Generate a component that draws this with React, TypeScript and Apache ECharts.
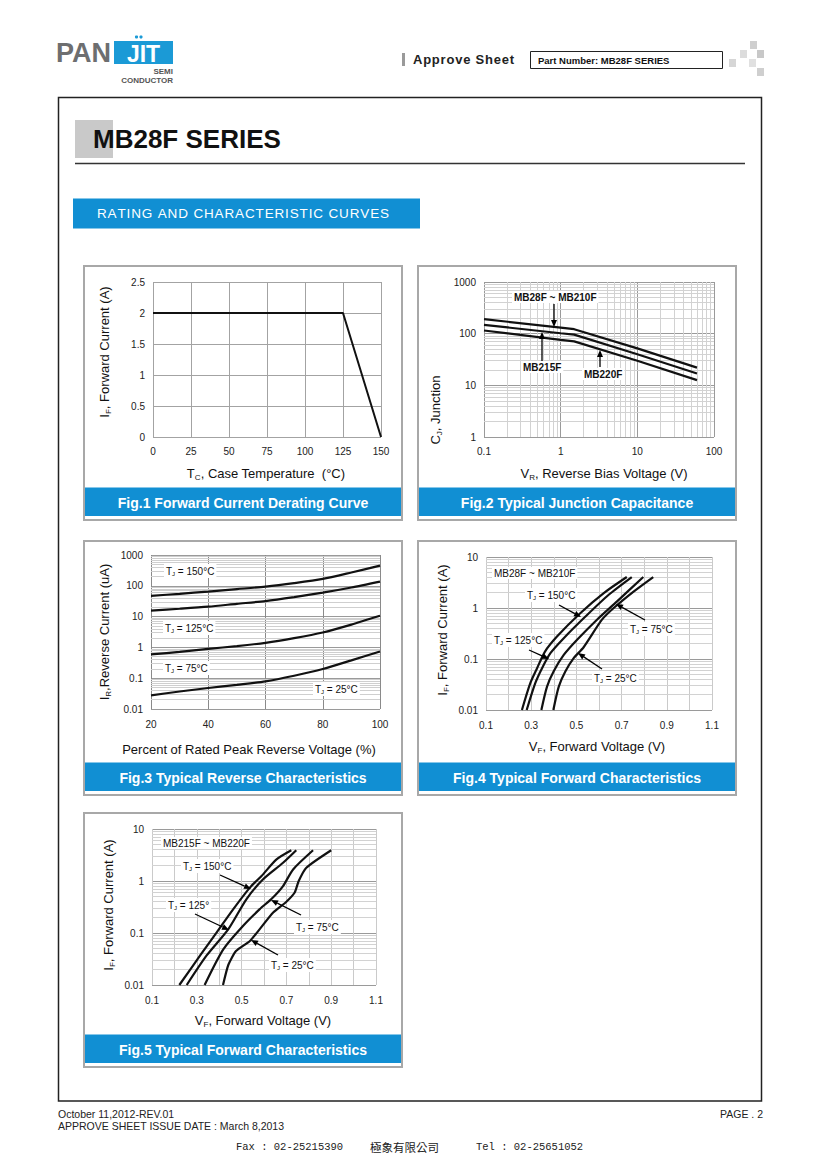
import React, { useEffect, useRef } from 'react';
import * as echarts from 'echarts';

// ---------- DATA ----------
const fig1TempTicks = [0, 25, 50, 75, 100, 125, 150];
const fig1CurrentTicks = [0, 0.5, 1, 1.5, 2, 2.5];
const fig1TempC = [0, 125, 150];
const fig1CurrentA = [2, 2, 0];

const fig2VoltageV = [0.1, 1, 1.5, 10, 60];
const fig2Mb28to210 = [191, 131, 122, 52, 22];
const fig2Mb215 = [148, 102, 96, 40, 17];
const fig2Mb220 = [115, 76, 71, 30, 12.6];

const fig3PercentVr = [20, 30, 40, 50, 60, 70, 80, 90, 100];
const fig3Tj150 = [47, 55, 65, 78, 94, 122, 167, 270, 450];
const fig3Tj125 = [15.7, 18, 21, 26, 32, 43, 60, 88, 137];
const fig3Tj75 = [0.59, 0.72, 0.9, 1.1, 1.41, 2.0, 3.05, 5.5, 10.6];
const fig3Tj25 = [0.0277, 0.037, 0.048, 0.061, 0.079, 0.12, 0.198, 0.38, 0.74];

const fig4Tj150V = [0.259, 0.296, 0.326, 0.361, 0.414, 0.517, 0.621, 0.723];
const fig4Tj150I = [0.01, 0.0335, 0.066, 0.14, 0.276, 0.79, 1.96, 4.05];
const fig4Tj125V = [0.28, 0.318, 0.348, 0.385, 0.444, 0.54, 0.643, 0.745];
const fig4Tj125I = [0.01, 0.0335, 0.066, 0.13, 0.256, 0.68, 1.82, 4.05];
const fig4Tj75V = [0.345, 0.37, 0.399, 0.444, 0.503, 0.591, 0.68, 0.796];
const fig4Tj75I = [0.01, 0.0288, 0.057, 0.12, 0.238, 0.59, 1.35, 4.05];
const fig4Tj25V = [0.398, 0.422, 0.451, 0.488, 0.532, 0.613, 0.665, 0.753, 0.84];
const fig4Tj25I = [0.01, 0.0288, 0.057, 0.104, 0.17, 0.59, 1.0, 2.1, 4.05];

const fig5Tj150V = [0.222, 0.315, 0.389, 0.463, 0.537, 0.589, 0.656, 0.722];
const fig5Tj150I = [0.01, 0.037, 0.103, 0.288, 0.746, 1.25, 2.6, 3.9];
const fig5Tj125V = [0.255, 0.344, 0.441, 0.522, 0.596, 0.685, 0.744];
const fig5Tj125I = [0.01, 0.037, 0.119, 0.45, 1.08, 2.24, 3.9];
const fig5Tj75V = [0.335, 0.419, 0.507, 0.581, 0.633, 0.685, 0.73, 0.819];
const fig5Tj75I = [0.01, 0.049, 0.138, 0.288, 0.45, 0.8, 1.67, 3.9];
const fig5Tj25V = [0.417, 0.441, 0.475, 0.537, 0.581, 0.641, 0.7, 0.737, 0.755, 0.789, 0.9];
const fig5Tj25I = [0.01, 0.0245, 0.045, 0.07, 0.119, 0.248, 0.4, 0.6, 1.0, 1.8, 3.9];

// log-paper minor grid values (2..9 per decade)
const minorDigits = [2, 3, 4, 5, 6, 7, 8, 9];
const decadesFig2X = [0.1, 1, 10];
const decadesFig2Y = [1, 10, 100];
const decadesFig3Y = [0.01, 0.1, 1, 10, 100];
const decadesFig45Y = [0.01, 0.1, 1];

// ---------- STYLE HELPERS ----------
const F = '"Liberation Sans", Arial, Helvetica, sans-serif';
const BLUE = '#118fd3';

const zip = (a: number[], b: number[]) => a.map((v, i) => [v, b[i]]);
const minors = (decades: number[]) =>
  decades.flatMap((d) => minorDigits.map((m) => Number((d * m).toPrecision(3))));
const logFmt = (v: number) => String(Number(Number(v).toPrecision(3)));
const oddTenthFmt = (v: number) => {
  const k = Math.round(v * 10);
  return k % 2 === 1 ? (k / 10).toFixed(1) : '';
};

function T(x: number, y: number, text: string, o: any = {}) {
  const size = o.size || 12;
  const st: any = {
    text,
    fill: o.color || '#111',
    fontSize: size,
    fontFamily: o.family || F,
    fontWeight: o.weight || 'normal',
    align: o.align || 'left',
    verticalAlign: o.valign || 'middle',
    textAlign: o.align || 'left',
    textVerticalAlign: o.valign || 'middle',
    rich: {
      s: {
        fontSize: Math.round(size * 0.62),
        fontFamily: o.family || F,
        fontWeight: o.weight || 'normal',
        fill: o.color || '#111',
        color: o.color || '#111',
        padding: [Math.round(size * 0.6), 0, 0, 0],
      },
    },
  };
  if (o.bg) {
    st.backgroundColor = o.bg;
    st.padding = o.pad || [1, 2, 1, 2];
  }
  return { type: 'text', x, y, z: o.z ?? 30, rotation: o.rotation || 0, silent: true, style: st };
}

// text spread evenly between x1 and x2 (emulates letter spacing)
let measureCtx: CanvasRenderingContext2D | null = null;
function spread(x1: number, x2: number, y: number, text: string, o: any = {}) {
  if (!measureCtx) measureCtx = document.createElement('canvas').getContext('2d');
  const size = o.size || 12;
  const weight = o.weight || 'normal';
  const family = o.family || F;
  const ctx = measureCtx!;
  ctx.font = `${weight} ${size}px ${family}`;
  const chars = Array.from(text);
  const widths = chars.map((c) => ctx.measureText(c).width);
  const total = widths.reduce((a, b) => a + b, 0);
  const gap = chars.length > 1 ? (x2 - x1 - total) / (chars.length - 1) : 0;
  const out: any[] = [];
  let x = x1;
  chars.forEach((c, i) => {
    if (c !== ' ') out.push(T(x, y, c, { ...o, align: 'left' }));
    x += widths[i] + gap;
  });
  return out;
}

function arrow(x1: number, y1: number, x2: number, y2: number) {
  const dx = x2 - x1, dy = y2 - y1;
  const L = Math.sqrt(dx * dx + dy * dy);
  const ux = dx / L, uy = dy / L;
  const hl = 7, hw = 3;
  const bx = x2 - ux * hl, by = y2 - uy * hl;
  return {
    type: 'group',
    z: 30,
    silent: true,
    children: [
      { type: 'line', z: 30, shape: { x1, y1, x2: bx, y2: by }, style: { stroke: '#000', lineWidth: 1.3 } },
      {
        type: 'polygon',
        z: 30,
        shape: { points: [[x2, y2], [bx - uy * hw, by + ux * hw], [bx + uy * hw, by - ux * hw]] },
        style: { fill: '#000' },
      },
    ],
  };
}

function panel(x: number, y: number, caption: string) {
  return [
    { type: 'rect', z: 5, silent: true, shape: { x: x + 1, y: y + 1, width: 318, height: 254 }, style: { fill: 'none', stroke: '#a8a8a8', lineWidth: 2 } },
    { type: 'rect', z: 5, silent: true, shape: { x: x + 2, y: y + 222.5, width: 316, height: 28.5 }, style: { fill: BLUE } },
    T(x + 160, y + 237.5, caption, { size: 14, weight: 'bold', color: '#fff', align: 'center' }),
  ];
}

function gridLines(idx: number, xMin: number, yMin: number, xVals: number[], yVals: number[], color: string) {
  return {
    type: 'line',
    xAxisIndex: idx,
    yAxisIndex: idx,
    data: [[xMin, yMin]],
    symbol: 'none',
    lineStyle: { opacity: 0 },
    z: 1,
    silent: true,
    markLine: {
      z: 1,
      silent: true,
      symbol: ['none', 'none'],
      label: { show: false },
      emphasis: { disabled: true },
      lineStyle: { color, width: 1, type: 'solid' },
      data: [...xVals.map((v) => ({ xAxis: v })), ...yVals.map((v) => ({ yAxis: v }))],
    },
  };
}

function curve(idx: number, data: number[][], width = 2.2, smooth: any = 0.25) {
  return {
    type: 'line',
    xAxisIndex: idx,
    yAxisIndex: idx,
    data,
    symbol: 'none',
    showSymbol: false,
    smooth,
    lineStyle: { color: '#111', width },
    z: 10,
    silent: true,
  };
}

const lab = { fontFamily: F, fontSize: 10, color: '#222' };
const noLine = { show: false };

function buildOption() {
  const graphic: any[] = [];

  // header logo
  graphic.push(T(56, 53, 'PAN', { size: 27, weight: 'bold', color: '#6d6e70' }));
  graphic.push({ type: 'rect', z: 5, silent: true, shape: { x: 114, y: 41, width: 59, height: 23 }, style: { fill: '#1b9ad6' } });
  graphic.push(T(143.5, 53.5, 'JIT', { size: 23, weight: 'bold', color: '#fff', align: 'center' }));
  graphic.push({ type: 'circle', z: 6, silent: true, shape: { cx: 136.5, cy: 37, r: 1.6 }, style: { fill: '#1b9ad6' } });
  graphic.push({ type: 'circle', z: 6, silent: true, shape: { cx: 141, cy: 37, r: 1.6 }, style: { fill: '#1b9ad6' } });
  graphic.push(T(173, 71, 'SEMI', { size: 8, weight: 'bold', color: '#555', align: 'right' }));
  graphic.push(T(173, 80, 'CONDUCTOR', { size: 8, weight: 'bold', color: '#555', align: 'right' }));

  // approve sheet
  graphic.push({ type: 'rect', z: 5, silent: true, shape: { x: 402, y: 53, width: 3, height: 13 }, style: { fill: '#9a9a9a' } });
  graphic.push(...spread(413, 514, 59.5, 'Approve Sheet', { size: 13, weight: 'bold', color: '#222' }));
  graphic.push({ type: 'rect', z: 5, silent: true, shape: { x: 530.5, y: 51.5, width: 192, height: 17 }, style: { fill: 'none', stroke: '#222', lineWidth: 1 } });
  graphic.push(T(538, 60.5, 'Part Number: MB28F SERIES', { size: 9.5, weight: 'bold', color: '#111' }));
  const sq = [
    [750, 41, '#cfcfcf'], [740, 50, '#dcdcdc'], [757, 50, '#c8c8c8'],
    [729, 59, '#d6d6d6'], [749, 59, '#e0e0e0'], [757, 68, '#cfcfcf'],
  ];
  sq.forEach(([x, y, c]) =>
    graphic.push({ type: 'rect', z: 5, silent: true, shape: { x, y, width: 7, height: 8 }, style: { fill: c } })
  );

  // main frame
  graphic.push({ type: 'rect', z: 5, silent: true, shape: { x: 58.5, y: 97.5, width: 703, height: 1003.5 }, style: { fill: 'none', stroke: '#222', lineWidth: 1.5 } });
  graphic.push({ type: 'rect', z: 5, silent: true, shape: { x: 75, y: 120, width: 38, height: 38 }, style: { fill: '#c9c9c9' } });
  graphic.push(T(93, 138.5, 'MB28F SERIES', { size: 26, weight: 'bold', color: '#111' }));
  graphic.push({ type: 'line', z: 5, silent: true, shape: { x1: 75, y1: 163.5, x2: 745, y2: 163.5 }, style: { stroke: '#333', lineWidth: 1.5 } });
  graphic.push({ type: 'rect', z: 5, silent: true, shape: { x: 73, y: 198.5, width: 347, height: 30 }, style: { fill: BLUE } });
  graphic.push(...spread(97, 389, 213.5, 'RATING AND CHARACTERISTIC CURVES', { size: 13.5, color: '#fff' }));

  // panels
  graphic.push(...panel(83, 265, 'Fig.1 Forward Current Derating Curve'));
  graphic.push(...panel(417, 265, 'Fig.2 Typical Junction Capacitance'));
  graphic.push(...panel(83, 540, 'Fig.3 Typical Reverse Characteristics'));
  graphic.push(...panel(417, 540, 'Fig.4 Typical Forward Characteristics'));
  graphic.push(...panel(83, 812, 'Fig.5 Typical Forward Characteristics'));

  // axis titles
  const R = Math.PI / 2;
  graphic.push(T(104, 352, 'I{s|F}, Forward Current (A)', { size: 13, align: 'center', rotation: R }));
  graphic.push(T(266, 473, 'T{s|C}, Case Temperature  (°C)', { size: 13, align: 'center' }));
  graphic.push(T(435, 410, 'C{s|J}, Junction', { size: 13, align: 'center', rotation: R }));
  graphic.push(T(604, 473, 'V{s|R}, Reverse Bias Voltage (V)', { size: 13, align: 'center' }));
  graphic.push(T(104, 632, 'I{s|R},Reverse Current (uA)', { size: 13, align: 'center', rotation: R }));
  graphic.push(T(249, 749, 'Percent of Rated Peak Reverse Voltage (%)', { size: 13, align: 'center' }));
  graphic.push(T(442, 630, 'I{s|F}, Forward Current (A)', { size: 13, align: 'center', rotation: R }));
  graphic.push(T(597, 746, 'V{s|F}, Forward Voltage (V)', { size: 13, align: 'center' }));
  graphic.push(T(108, 905, 'I{s|F}, Forward Current (A)', { size: 13, align: 'center', rotation: R }));
  graphic.push(T(263, 1020, 'V{s|F}, Forward Voltage (V)', { size: 13, align: 'center' }));

  // Fig2 annotations
  graphic.push(T(512, 297, 'MB28F ~ MB210F', { size: 10, weight: 'bold', bg: '#fff' }));
  graphic.push(arrow(554, 304, 554, 327));
  graphic.push(T(521, 367, 'MB215F', { size: 10, weight: 'bold', bg: '#fff' }));
  graphic.push(arrow(542, 361, 542, 332));
  graphic.push(T(582, 374, 'MB220F', { size: 10, weight: 'bold', bg: '#fff' }));
  graphic.push(arrow(600, 367, 600, 350));

  // Fig3 annotations
  graphic.push(T(164, 571, 'T{s|J} = 150°C', { size: 10, bg: '#fff' }));
  graphic.push(T(163, 628, 'T{s|J} = 125°C', { size: 10, bg: '#fff' }));
  graphic.push(T(163, 668, 'T{s|J} = 75°C', { size: 10, bg: '#fff' }));
  graphic.push(T(313, 689, 'T{s|J} = 25°C', { size: 10, bg: '#fff' }));

  // Fig4 annotations
  graphic.push(T(492, 573, 'MB28F ~ MB210F', { size: 10, bg: '#fff' }));
  graphic.push(T(525, 595, 'T{s|J} = 150°C', { size: 10, bg: '#fff' }));
  graphic.push(arrow(559, 605, 581, 617));
  graphic.push(T(492, 640, 'T{s|J} = 125°C', { size: 10, bg: '#fff' }));
  graphic.push(arrow(529, 650, 549, 659));
  graphic.push(T(628, 629, 'T{s|J} = 75°C', { size: 10, bg: '#fff' }));
  graphic.push(arrow(645, 620, 616, 604));
  graphic.push(T(592, 678, 'T{s|J} = 25°C', { size: 10, bg: '#fff' }));
  graphic.push(arrow(602, 669, 578, 653));

  // Fig5 annotations
  graphic.push(T(161, 843, 'MB215F ~ MB220F', { size: 10, bg: '#fff' }));
  graphic.push(T(181, 866, 'T{s|J} = 150°C', { size: 10, bg: '#fff' }));
  graphic.push(arrow(220, 875, 251, 889));
  graphic.push(T(166, 905, 'T{s|J} = 125°', { size: 10, bg: '#fff' }));
  graphic.push(arrow(195, 914, 229, 930));
  graphic.push(T(294, 927, 'T{s|J} = 75°C', { size: 10, bg: '#fff' }));
  graphic.push(arrow(301, 915, 271, 900));
  graphic.push(T(269, 965, 'T{s|J} = 25°C', { size: 10, bg: '#fff' }));
  graphic.push(arrow(278, 955, 251, 940));

  // footer
  graphic.push(T(58, 1114, 'October 11,2012-REV.01', { size: 10.5, color: '#222' }));
  graphic.push(T(58, 1126, 'APPROVE SHEET ISSUE DATE : March 8,2013', { size: 10.5, color: '#222' }));
  graphic.push(T(763, 1114, 'PAGE . 2', { size: 10.5, color: '#222', align: 'right' }));
  const mono = '"Liberation Mono", "DejaVu Sans Mono", monospace';
  graphic.push(T(236, 1147, 'Fax : 02-25215390', { size: 10.5, color: '#222', family: mono }));
  graphic.push(T(370, 1147, '極象有限公司', { size: 11.5, color: '#222', family: '"Noto Sans CJK TC", serif' }));
  graphic.push(T(476, 1147, 'Tel : 02-25651052', { size: 10.5, color: '#222', family: mono }));

  const baseAxis = {
    axisLine: noLine,
    axisTick: { show: false },
  };

  return {
    animation: false,
    backgroundColor: '#fff',
    textStyle: { fontFamily: F },
    grid: [
      { left: 153, top: 282, width: 228, height: 155 },
      { left: 484, top: 282, width: 230, height: 155 },
      { left: 151, top: 555, width: 229, height: 154 },
      { left: 486, top: 557, width: 226, height: 153 },
      { left: 152, top: 829, width: 224, height: 156 },
    ],
    xAxis: [
      {
        ...baseAxis, gridIndex: 0, type: 'value',
        min: fig1TempTicks[0], max: fig1TempTicks[fig1TempTicks.length - 1], interval: fig1TempTicks[1] - fig1TempTicks[0],
        axisLabel: { ...lab, margin: 9 },
        splitLine: { show: true, lineStyle: { color: '#a3a3a3', width: 1 } },
      },
      {
        ...baseAxis, gridIndex: 1, type: 'log', logBase: 10, min: 0.1, max: 100,
        axisLabel: { ...lab, margin: 9, formatter: logFmt },
        splitLine: { show: true, lineStyle: { color: '#9a9a9a', width: 1 } },
      },
      {
        ...baseAxis, gridIndex: 2, type: 'value', min: 20, max: 100, interval: 20,
        axisLabel: { ...lab, margin: 10 },
        splitLine: { show: true, lineStyle: { color: '#8a8a8a', width: 1 } },
      },
      {
        ...baseAxis, gridIndex: 3, type: 'value', min: 0.1, max: 1.1, interval: 0.1,
        axisLabel: { ...lab, margin: 10, formatter: oddTenthFmt, showMinLabel: true, showMaxLabel: true },
        splitLine: { show: true, lineStyle: { color: '#cacaca', width: 1 } },
      },
      {
        ...baseAxis, gridIndex: 4, type: 'value', min: 0.1, max: 1.1, interval: 0.1,
        axisLabel: { ...lab, margin: 10, formatter: oddTenthFmt, showMinLabel: true, showMaxLabel: true },
        splitLine: { show: true, lineStyle: { color: '#cacaca', width: 1 } },
      },
    ],
    yAxis: [
      {
        ...baseAxis, gridIndex: 0, type: 'value',
        min: fig1CurrentTicks[0], max: fig1CurrentTicks[fig1CurrentTicks.length - 1], interval: fig1CurrentTicks[1] - fig1CurrentTicks[0],
        axisLabel: { ...lab, margin: 8 },
        splitLine: { show: true, lineStyle: { color: '#a3a3a3', width: 1 } },
      },
      {
        ...baseAxis, gridIndex: 1, type: 'log', logBase: 10, min: 1, max: 1000,
        axisLabel: { ...lab, margin: 8, formatter: logFmt },
        splitLine: { show: true, lineStyle: { color: '#9a9a9a', width: 1 } },
      },
      {
        ...baseAxis, gridIndex: 2, type: 'log', logBase: 10, min: 0.01, max: 1000,
        axisLabel: { ...lab, margin: 8, formatter: logFmt },
        splitLine: { show: true, lineStyle: { color: '#9a9a9a', width: 1 } },
      },
      {
        ...baseAxis, gridIndex: 3, type: 'log', logBase: 10, min: 0.01, max: 10,
        axisLabel: { ...lab, margin: 8, formatter: logFmt },
        splitLine: { show: true, lineStyle: { color: '#9a9a9a', width: 1 } },
      },
      {
        ...baseAxis, gridIndex: 4, type: 'log', logBase: 10, min: 0.01, max: 10,
        axisLabel: { ...lab, margin: 8, formatter: logFmt },
        splitLine: { show: true, lineStyle: { color: '#9a9a9a', width: 1 } },
      },
    ],
    series: [
      gridLines(1, 0.1, 1, minors(decadesFig2X), minors(decadesFig2Y), '#d2d2d2'),
      gridLines(2, 20, 0.01, [], minors(decadesFig3Y), '#cfcfcf'),
      gridLines(3, 0.1, 0.01, [], minors(decadesFig45Y), '#d2d2d2'),
      gridLines(4, 0.1, 0.01, [], minors(decadesFig45Y), '#d2d2d2'),

      curve(0, zip(fig1TempC, fig1CurrentA), 2, false),

      curve(1, zip(fig2VoltageV, fig2Mb28to210), 2.2, false),
      curve(1, zip(fig2VoltageV, fig2Mb215), 2.2, false),
      curve(1, zip(fig2VoltageV, fig2Mb220), 2.2, false),

      curve(2, zip(fig3PercentVr, fig3Tj150)),
      curve(2, zip(fig3PercentVr, fig3Tj125)),
      curve(2, zip(fig3PercentVr, fig3Tj75)),
      curve(2, zip(fig3PercentVr, fig3Tj25)),

      curve(3, zip(fig4Tj150V, fig4Tj150I)),
      curve(3, zip(fig4Tj125V, fig4Tj125I)),
      curve(3, zip(fig4Tj75V, fig4Tj75I)),
      curve(3, zip(fig4Tj25V, fig4Tj25I)),

      curve(4, zip(fig5Tj150V, fig5Tj150I)),
      curve(4, zip(fig5Tj125V, fig5Tj125I)),
      curve(4, zip(fig5Tj75V, fig5Tj75I)),
      curve(4, zip(fig5Tj25V, fig5Tj25I), 2.2, 0.2),
    ],
    graphic,
  };
}

export default function App() {
  const ref = useRef<HTMLDivElement>(null);
  useEffect(() => {
    if (!ref.current) return;
    const chart = echarts.init(ref.current, undefined, { renderer: 'svg' });
    chart.setOption(buildOption() as any);
    return () => chart.dispose();
  }, []);
  return (
    <div
      ref={ref}
      style={{ position: 'absolute', left: 0, top: 0, width: 820, height: 1160, background: '#fff' }}
    />
  );
}
